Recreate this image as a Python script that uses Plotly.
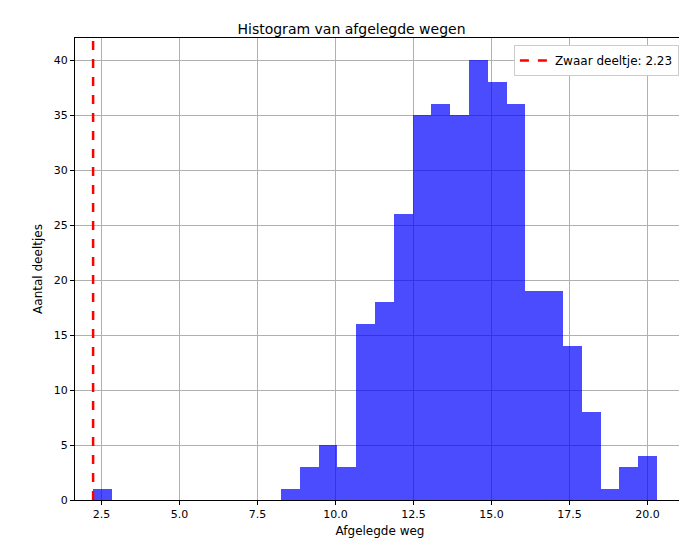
import numpy as np
import plotly.graph_objects as go

counts = [1, 0, 0, 0, 0, 0, 0, 0, 0, 0, 1, 3, 5, 3, 16, 18, 26, 35, 36, 35, 40, 38, 36, 19, 19, 14, 8, 1, 3, 4]
data_min = 2.23
data_max = 20.30
heavy = 2.23

edges = np.linspace(data_min, data_max, len(counts) + 1)
centers = (edges[:-1] + edges[1:]) / 2
width = edges[1] - edges[0]

fig = go.Figure()
fig.add_trace(go.Bar(x=centers, y=counts, width=width, marker=dict(color="rgba(0,0,255,0.7)", line=dict(width=0)),
                     showlegend=False))
fig.add_trace(go.Scatter(x=[heavy, heavy], y=[0, 42], mode="lines", line=dict(color="red", width=2.5, dash="dash"),
                         name=f"Zwaar deeltje: {heavy:.2f}"))
ax = dict(showline=True, linecolor="black", mirror=True, showgrid=True, gridcolor="#b0b0b0", ticks="outside",
          ticklen=4, tickcolor="black", zeroline=False, tickfont=dict(size=11))
fig.update_layout(
    width=687, height=545, plot_bgcolor="white", paper_bgcolor="white", bargap=0,
    margin=dict(l=67, r=10, t=30, b=53),
    font=dict(family="DejaVu Sans", size=12, color="black"),
    title=dict(text="Histogram van afgelegde wegen", x=0.5, xanchor="center", y=0.97, font=dict(size=14)),
    xaxis=dict(ax, range=[1.65, 21.2], tickvals=[2.5, 5, 7.5, 10, 12.5, 15, 17.5, 20], ticktext=["2.5", "5.0", "7.5", "10.0", "12.5", "15.0", "17.5", "20.0"], title=dict(text="Afgelegde weg", standoff=6, font=dict(size=12))),
    yaxis=dict(ax, range=[0, 42], dtick=5, title=dict(text="Aantal deeltjes", standoff=8, font=dict(size=12))),
    legend=dict(x=0.99, y=0.985, xanchor="right", yanchor="top", bordercolor="#cccccc", borderwidth=1, bgcolor="white"),
)
fig.write_html("out.html")
